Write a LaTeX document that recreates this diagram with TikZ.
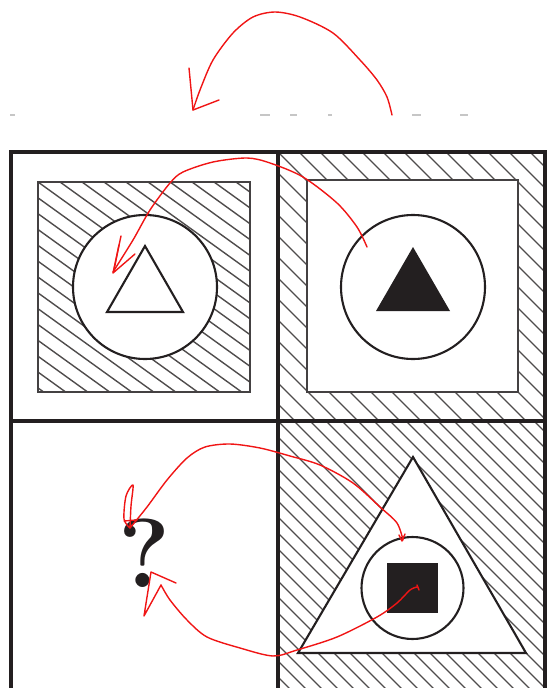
\documentclass[tikz,border=0pt]{standalone}
\usepackage{tikz}
\usetikzlibrary{calc}
\definecolor{ink}{HTML}{231F20}
\definecolor{pen}{HTML}{F01515}
\tikzset{
  hatch/.style={line width=1.4pt,ink!80},
  cellline/.style={line width=3.4pt,ink},
  frame/.style={line width=2.4pt,ink!85},
  figline/.style={line width=2.1pt,ink},
  redpen/.style={line width=1.4pt,pen,line cap=round,line join=round},
  scrap/.style={line width=1.6pt,gray!45}
}

\begin{document}
\begin{tikzpicture}[x=1pt,y=-1pt]
\useasboundingbox (0,0) rectangle (548,688);
% faint marks above the grid
\foreach \a/\b in {10/15,260/270,290/297,328/332,412/421,460/468}
  \draw[scrap] (\a,115) -- (\b,115);
% top left: hatched square, circle, open triangle
\begin{scope}
\clip (38,182) rectangle (250,392);
\foreach \k in {-16,...,11}
  \draw[hatch] ({38+\k*22},182) -- ++(400,288);
\end{scope}
\draw[frame] (38,182) rectangle (250,392);
\filldraw[figline,fill=white] (145,287) circle[radius=72];
\draw[figline,line join=miter] (145,246) -- (107,312) -- (183,312) -- cycle;
% top right: hatched border, circle, filled triangle
\begin{scope}
\clip (278,152) rectangle (545,421);
\foreach \k in {-14,...,13}
  \draw[hatch] ({278+\k*21},152) -- ++(300,300);
\end{scope}
\filldraw[frame,fill=white] (307,180) rectangle (518,392);
\draw[figline] (413,287) circle[radius=72];
\fill[ink] (413,247) -- (376,311) -- (450,311) -- cycle;
% bottom right: hatched cell, big triangle, circle, filled square
\begin{scope}
\clip (278,421) rectangle (545,688);
\foreach \k in {-18,...,17}
  \draw[hatch] ({278+\k*16},421) -- ++(300,300);
\end{scope}
\filldraw[figline,fill=white,line join=miter] (413,457) -- (298,653) -- (526,653) -- cycle;
\draw[figline] (412.5,588) circle[radius=51];
\fill[ink] (387,563) rectangle (438,613);
% bottom left: the question
\node[font=\fontsize{98}{98}\selectfont\bfseries,text=ink] (qmark) at (145,553) {?};
% grid
\draw[cellline] (11,152) rectangle (545,690);
\draw[cellline] (278,152) -- (278,690);
\draw[cellline] (11,421) -- (545,421);
% red annotations
\draw[redpen] plot[smooth] coordinates {(392,115) (387,97) (377,80) (360,60) (333,33) (300,17) (275,12) (253,17) (233,33) (213,60) (200,90) (193,110)};
\draw[redpen] (189,68) -- (193,110) -- (219,100);
\draw[redpen] plot[smooth] coordinates {(367,247) (357,227) (337,203) (303,177) (270,163) (247,158) (213,162) (183,172) (170,183) (150,210) (133,240) (113,272)};
\draw[redpen] (121,236) -- (113,273) -- (135,254);
\draw[redpen] (119,245) -- (114,270);
\draw[redpen] plot[smooth] coordinates {(403,540) (397,523) (380,507) (353,483) (320,465) (290,456) (260,448) (230,444) (205,447) (187,458) (167,480) (147,507) (130,528)};
\draw[redpen] plot[smooth] coordinates {(130,528) (124,519) (126,496) (133,485) (131,506) (130,528)};
\draw[redpen] (124,521) -- (137,520);
\draw[redpen] (399,535) -- (402,541) -- (405,534);
\draw[redpen] plot[smooth] coordinates {(417,587) (410,590) (397,603) (377,617) (337,637) (297,650) (273,656) (240,648) (207,637) (187,620) (170,600) (161,585)};
\draw[redpen] (161,585) -- (144,616) -- (151,572) -- (176,583);
\draw[redpen] (417,585) -- (419,590);
\end{tikzpicture}
\end{document}
